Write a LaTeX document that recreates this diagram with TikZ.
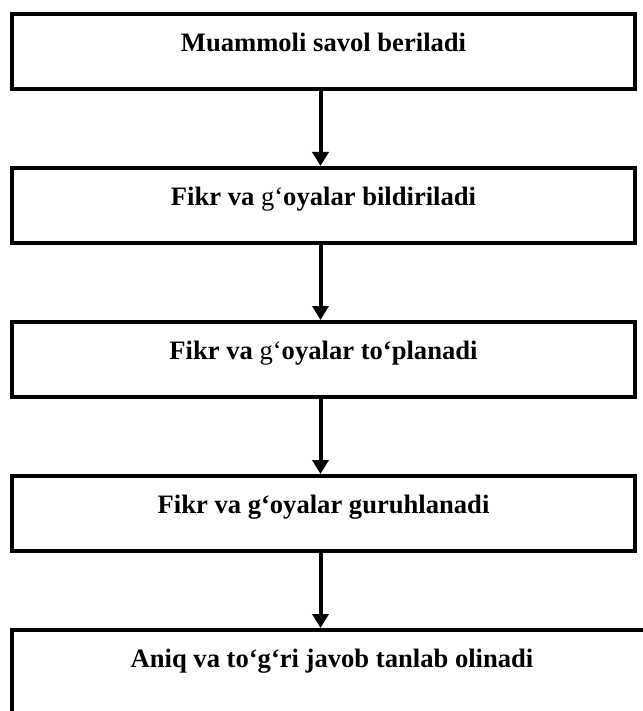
\documentclass[tikz,border=0pt]{standalone}
\usepackage{fontspec}
\setmainfont{Liberation Serif}
\usetikzlibrary{positioning,arrows.meta}

\tikzset{
  stepbox/.style={draw, line width=4pt, minimum width=623pt, minimum height=75pt,
    inner sep=0pt, font=\bfseries\fontsize{26.6}{30}\selectfont,
    text height=12pt, text depth=12pt},
  flow/.style={-{Triangle[width=16pt,length=14pt]}, line width=4pt},
}

\begin{document}
\begin{tikzpicture}[x=1pt, y=1pt, node distance=75pt]
        \useasboundingbox (0,0) rectangle (642,-711);

        % NODES
        % -----------------

        \node[stepbox] (question) at (323.5,-51.5) {Muammoli savol beriladi};
        \node[stepbox, below=of question] (ideas) {Fikr va {\mdseries g‘}oyalar bildiriladi};
        \node[stepbox, below=of ideas] (collect) {Fikr va {\mdseries g‘}oyalar to‘planadi};
        \node[stepbox, below=of collect] (group) {Fikr va g‘oyalar guruhlanadi};
        \node[stepbox, below=75pt of group.south west, anchor=north west,
              minimum width=640pt, minimum height=150pt, text depth=88pt] (answer)
              {Aniq va to‘g‘ri javob tanlab olinadi};

        % EDGES
        % -----------------
        \draw[flow] ([xshift=-3pt]question.south) -- ([xshift=-3pt]ideas.north);
        \draw[flow] ([xshift=-3pt]ideas.south) -- ([xshift=-3pt]collect.north);
        \draw[flow] ([xshift=-3pt]collect.south) -- ([xshift=-3pt]group.north);
        \draw[flow] ([xshift=-3pt]group.south) -- ([xshift=-3pt]group.south |- answer.north);

\end{tikzpicture}
\end{document}
